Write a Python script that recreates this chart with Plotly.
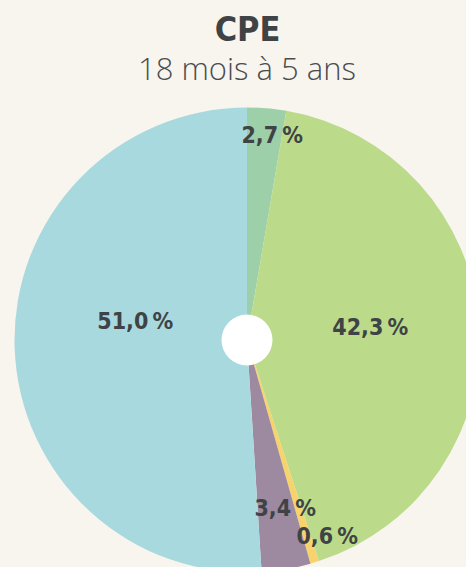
import math
import plotly.graph_objects as go

# ---- data ----
categories = ["A", "B", "C", "D", "E"]
values = [2.7, 42.3, 0.6, 3.4, 51.0]
value_labels = ["2,7\u2009%", "42,3\u2009%", "0,6\u2009%", "3,4\u2009%", "51,0\u2009%"]
colors = ["#9dcfa9", "#bbdb8a", "#f6d36c", "#9d8aa0", "#a8d9de"]
title_text = "CPE"
subtitle_text = "18 mois à 5 ans"

# ---- layout geometry (pixels) ----
W, H = 500, 600
CX, CY, R = 247, 340, 232.5
HOLE_R = 25.5
BG = "#f8f5ef"
TXT = "#404346"
COND = "DejaVu Sans, sans-serif"

# label placement tweaks (styling, not data)
label_radius = [0.89, 0.53, 0.91, 0.74, 0.49]
label_angle_offset = [2.0, -1.9, -5.2, -3.1, 11.4]


def px_to_paper(x, y):
    return x / W, 1 - y / H


x0, y1 = px_to_paper(CX - R, CY - R)
x1, y0 = px_to_paper(CX + R, CY + R)
hx0, hy1 = px_to_paper(CX - HOLE_R, CY - HOLE_R)
hx1, hy0 = px_to_paper(CX + HOLE_R, CY + HOLE_R)

fig = go.Figure()
fig.add_trace(go.Pie(
    labels=categories, values=values, sort=False, direction="clockwise",
    rotation=0, textinfo="none", hoverinfo="skip",
    marker=dict(colors=colors, line=dict(width=0)),
    domain=dict(x=[x0, x1], y=[y0, y1]), showlegend=False,
))
fig.add_trace(go.Pie(
    labels=["centre"], values=[1], textinfo="none", hoverinfo="skip",
    marker=dict(colors=["#ffffff"], line=dict(width=0)),
    domain=dict(x=[hx0, hx1], y=[hy0, hy1]), showlegend=False,
))

annotations = []
total = sum(values)
cum = 0.0
for v, lab, rf, off in zip(values, value_labels, label_radius, label_angle_offset):
    mid = (cum + v / 2) / total * 360 + off
    cum += v
    a = math.radians(mid)
    px = CX + rf * R * math.sin(a)
    py = CY - rf * R * math.cos(a)
    ax_, ay_ = px_to_paper(px, py)
    annotations.append(dict(
        x=ax_, y=ay_, xref="paper", yref="paper", text="<b>" + lab + "</b>", showarrow=False,
        xanchor="center", yanchor="middle",
        font=dict(family=COND, size=23, color=TXT),
    ))

tx, ty = px_to_paper(CX, 29)
annotations.append(dict(
    x=tx, y=ty, xref="paper", yref="paper", text="<b>" + title_text + "</b>",
    showarrow=False, xanchor="center", yanchor="middle",
    font=dict(family=COND, size=34, color=TXT),
))
sx, sy = px_to_paper(CX, 68)
annotations.append(dict(
    x=sx, y=sy, xref="paper", yref="paper", text=subtitle_text,
    showarrow=False, xanchor="center", yanchor="middle",
    font=dict(family="Open Sans, Lato, sans-serif", size=31, color="#4a4d50", weight=300),
))

fig.update_layout(
    width=W, height=H, autosize=False,
    margin=dict(l=0, r=0, t=0, b=0),
    paper_bgcolor=BG, plot_bgcolor=BG,
    annotations=annotations,
)

fig.write_html(
    "out.html",
    config={"displayModeBar": False, "staticPlot": True},
    post_script="document.body.style.margin='0';document.body.style.overflow='hidden';"
                "document.documentElement.style.overflow='hidden';"
                "document.body.style.background='" + BG + "';"
                "document.querySelectorAll('text.annotation-text').forEach(function(e){"
                "if((e.style.fontFamily||'').indexOf('DejaVu')>=0){e.style.fontStretch='condensed';}});",
)
